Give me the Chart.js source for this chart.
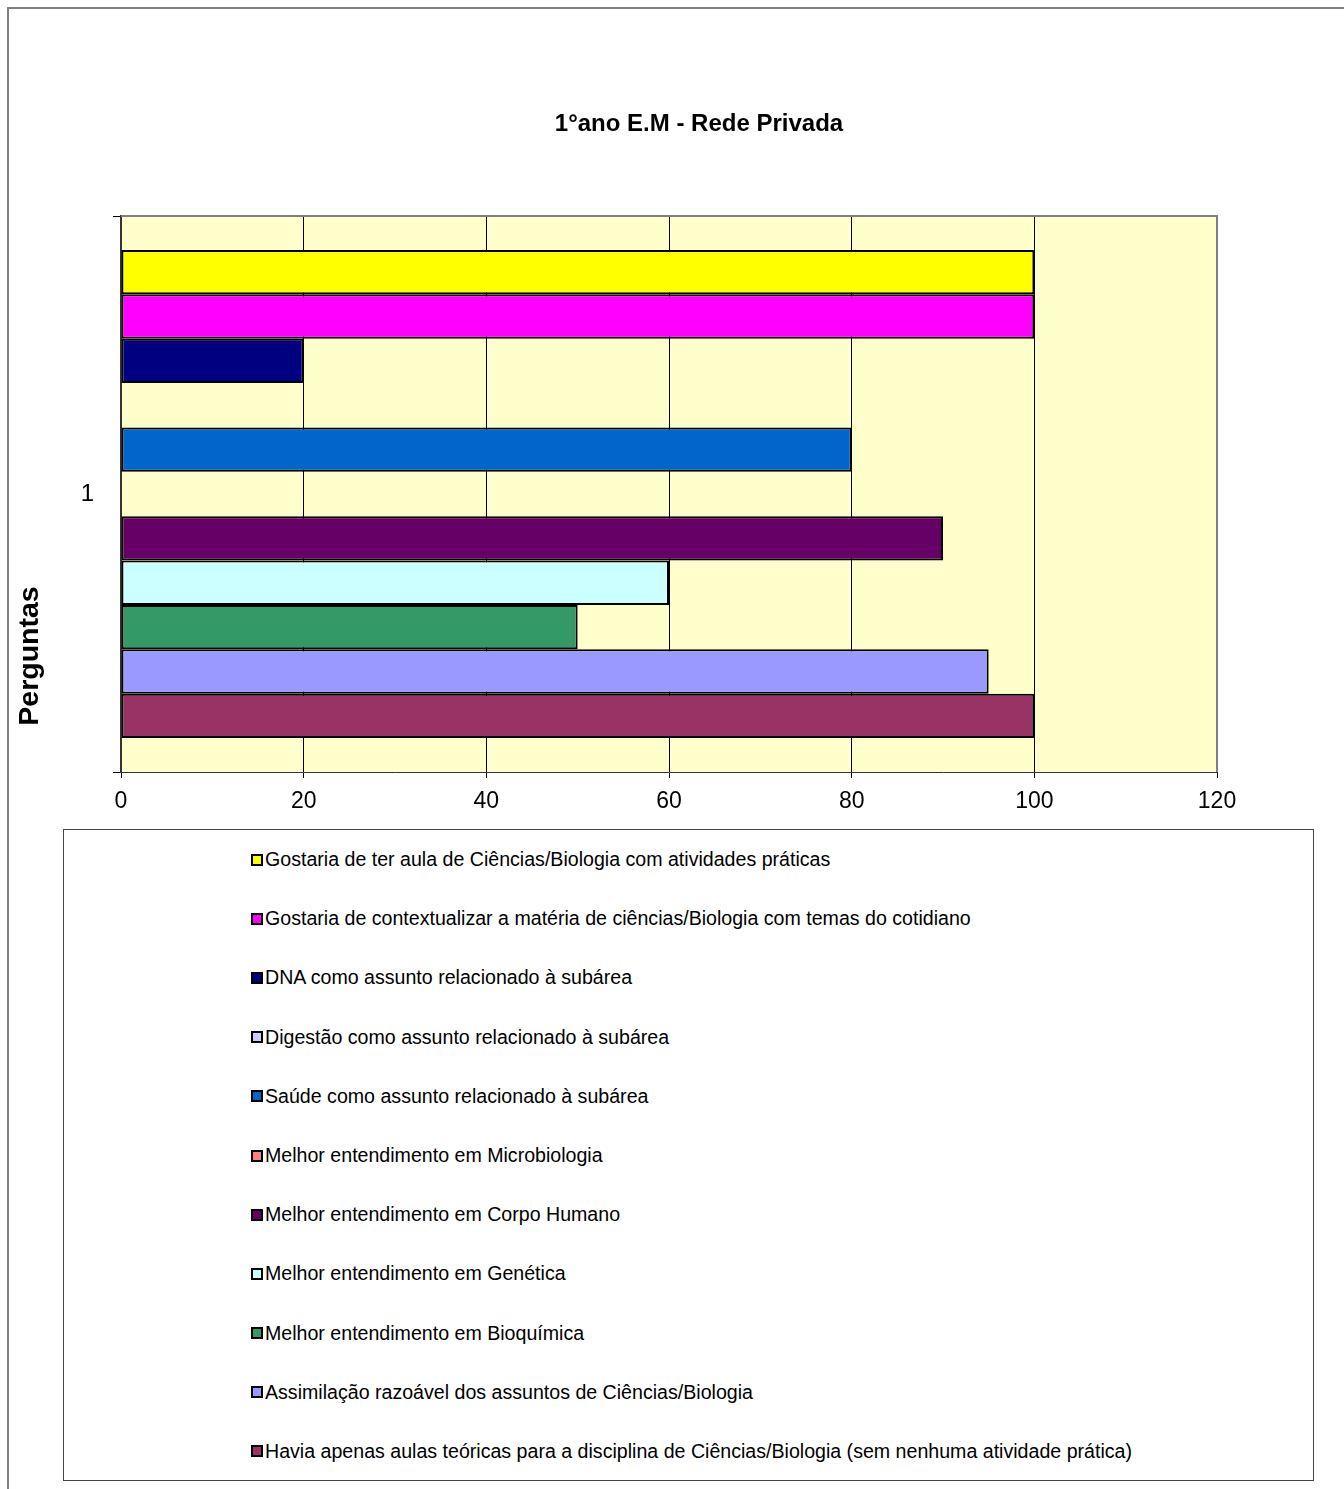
<!DOCTYPE html>
<html>
<head>
<meta charset="utf-8">
<script src="https://cdn.jsdelivr.net/npm/chart.js@4.4.1/dist/chart.umd.min.js"></script>
<style>
  html, body { margin: 0; padding: 0; background: #fff; overflow: hidden; }
  body { width: 1344px; height: 1489px; position: relative; font-family: "Liberation Sans", Arial, sans-serif; }
  #frame { position: absolute; left: 7px; top: 7px; width: 1420px; height: 1520px; border: 2px solid #808080; }
  #chart { position: absolute; left: 0; top: 0; }
  #chart-title {
    position: absolute; left: 0; top: 109px; width: 1398px; height: 28px; line-height: 28px;
    text-align: center; font-weight: bold; font-size: 24px; color: #000;
  }
  #chart-legend-container {
    position: absolute; left: 63px; top: 829px; width: 1249px; height: 650px;
    border: 1px solid #444; background: #fff;
  }
</style>
</head>
<body>
<div id="frame"></div>
<canvas id="chart" width="1398" height="830"></canvas>
<div id="chart-title">1°ano E.M - Rede Privada</div>
<div id="chart-legend-container"></div>
<script>
const categories = ['1'];
const seriesLabels = [
  'Gostaria de ter aula de Ciências/Biologia com atividades práticas',
  'Gostaria de contextualizar a matéria de ciências/Biologia com temas do cotidiano',
  'DNA como assunto relacionado à subárea',
  'Digestão como assunto relacionado à subárea',
  'Saúde como assunto relacionado à subárea',
  'Melhor entendimento em Microbiologia',
  'Melhor entendimento em Corpo Humano',
  'Melhor entendimento em Genética',
  'Melhor entendimento em Bioquímica',
  'Assimilação razoável dos assuntos de Ciências/Biologia',
  'Havia apenas aulas teóricas para a disciplina de Ciências/Biologia (sem nenhuma atividade prática)',
];
const seriesValues = [100, 100, 20, 0, 80, 0, 90, 60, 50, 95, 100];
const seriesColors = [
  '#ffff00', '#ff00ff', '#000080', '#ccccff', '#0066cc', '#ff8080',
  '#660066', '#ccffff', '#339966', '#9999ff', '#993366',
];
const xMin = 0;
const xMax = 120;
const xStep = 20;

const FONT = '"Liberation Sans", Arial, sans-serif';

const plotBackground = {
  id: 'plotBackground',
  beforeDraw(chart) {
    const { ctx, chartArea: a } = chart;
    ctx.save();
    ctx.fillStyle = '#ffffcc';
    ctx.fillRect(a.left, a.top, a.right - a.left, a.bottom - a.top);
    ctx.restore();
  },
  beforeDatasetsDraw(chart) {
    const { ctx, chartArea: a } = chart;
    ctx.save();
    ctx.strokeStyle = '#808080';
    ctx.lineWidth = 2;
    ctx.beginPath();
    ctx.moveTo(a.left, a.top);
    ctx.lineTo(a.right, a.top);
    ctx.lineTo(a.right, a.bottom);
    ctx.stroke();
    ctx.restore();
  },
};

// Excel puts the axis title low on the left side, not centred
const axisLabel = {
  id: 'axisLabel',
  afterDraw(chart) {
    const { ctx, chartArea: a } = chart;
    ctx.save();
    ctx.translate(a.left - 91, a.bottom - 116);
    ctx.rotate(-Math.PI / 2);
    ctx.font = 'bold 28.5px ' + FONT;
    ctx.fillStyle = '#000';
    ctx.textAlign = 'center';
    ctx.textBaseline = 'middle';
    ctx.fillText('Perguntas', 0, 0);
    ctx.restore();
  },
};

const chart = new Chart(document.getElementById('chart'), {
  type: 'bar',
  data: {
    labels: categories,
    datasets: seriesLabels.map((label, i) => ({
      label: label,
      data: [seriesValues[i]],
      backgroundColor: seriesColors[i],
      borderColor: '#000',
      borderWidth: 2,
      borderSkipped: false,
      barPercentage: 1,
      categoryPercentage: 0.878,
    })),
  },
  options: {
    indexAxis: 'y',
    responsive: false,
    animation: false,
    layout: { padding: { left: 0, right: 181, top: 216, bottom: 8 } },
    plugins: {
      legend: { display: false },
      tooltip: { enabled: false },
      title: { display: false },
    },
    scales: {
      x: {
        min: xMin,
        max: xMax,
        afterFit: (s) => { s.height = 50; },
        ticks: {
          stepSize: xStep,
          color: '#000',
          padding: 10,
          font: { family: FONT, size: 23 },
        },
        grid: {
          color: (c) => (c.tick && c.tick.value === xMax ? '#808080' : '#000'),
          lineWidth: 1,
          tickLength: 6,
          tickColor: '#000',
        },
        border: { color: '#333', width: 1 },
      },
      y: {
        afterFit: (s) => { s.width = 121; },
        ticks: {
          color: '#000',
          padding: 19,
          font: { family: FONT, size: 24 },
        },
        grid: {
          offset: true,
          drawOnChartArea: false,
          tickLength: 8,
          color: '#000',
        },
        border: { color: '#333', width: 2 },
      },
    },
  },
  plugins: [plotBackground, axisLabel],
});

function generateCustomLegend(chart, containerId) {
  const container = document.getElementById(containerId);
  if (!container) return;

  const html = chart.data.datasets
    .map((ds) => `
      <li style="display: flex; align-items: center; height: 59.2px;">
        <span style="width: 8px; height: 8px; background: ${ds.backgroundColor}; border: 2px solid #000; margin-right: 2px;"></span>
        <span style="color: #000; font-size: 19.6px;">${ds.label}</span>
      </li>`)
    .join('');

  container.innerHTML = `<ul style="list-style: none; padding: 0 0 0 187px; margin: 0;">${html}</ul>`;
}

generateCustomLegend(chart, 'chart-legend-container');
</script>
</body>
</html>
